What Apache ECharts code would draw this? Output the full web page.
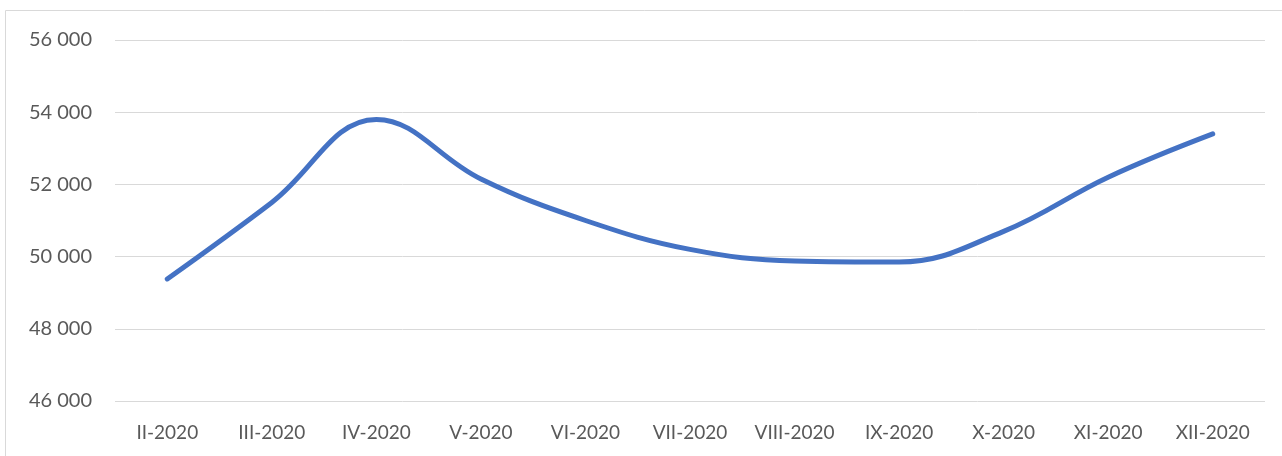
<!DOCTYPE html>
<html>
<head>
<meta charset="utf-8">
<script src="https://cdn.jsdelivr.net/npm/echarts@6/dist/echarts.min.js"></script>
<style>
html,body{margin:0;padding:0;background:#fff;}
#chart{width:1282px;height:456px;}
</style>
</head>
<body>
<div id="chart"></div>
<script>
const categories = ['II-2020','III-2020','IV-2020','V-2020','VI-2020','VII-2020','VIII-2020','IX-2020','X-2020','XI-2020','XII-2020'];
const values = [49380, 51500, 53800, 52150, 51000, 50200, 49880, 49850, 50700, 52200, 53400];
const yTicks = [46000, 48000, 50000, 52000, 54000, 56000];

const chart = echarts.init(document.getElementById('chart'), null, {renderer:'canvas'});
const fmt = v => String(v).replace(/\B(?=(\d{3})+(?!\d))/g, ' ');
const FONT = 'Lato, "Open Sans", "Liberation Sans", sans-serif';
chart.setOption({
  animation:false,
  graphic:[{
    type:'rect', shape:{x:5.5,y:10.5,width:1400,height:500},
    style:{fill:'none',stroke:'#d9d9d9',lineWidth:1}, silent:true
  }],
  grid:{left:115,right:17,top:40,bottom:55,containLabel:false},
  xAxis:{
    type:'category', data:categories, boundaryGap:true,
    axisLine:{show:false}, axisTick:{show:false},
    axisLabel:{color:'#595959',fontSize:19,fontFamily:FONT,margin:22,interval:0}
  },
  yAxis:{
    type:'value', min:yTicks[0], max:yTicks[yTicks.length-1], interval:2000,
    axisLine:{show:false}, axisTick:{show:false},
    splitLine:{lineStyle:{color:'#d9d9d9',width:1}},
    axisLabel:{color:'#595959',fontSize:20,fontFamily:FONT,margin:23,formatter:fmt}
  },
  series:[{
    type:'line', data:values, smooth:0.4, showSymbol:false,
    lineStyle:{color:'#4472C4',width:5,cap:'round'}
  }]
});
</script>
</body>
</html>
